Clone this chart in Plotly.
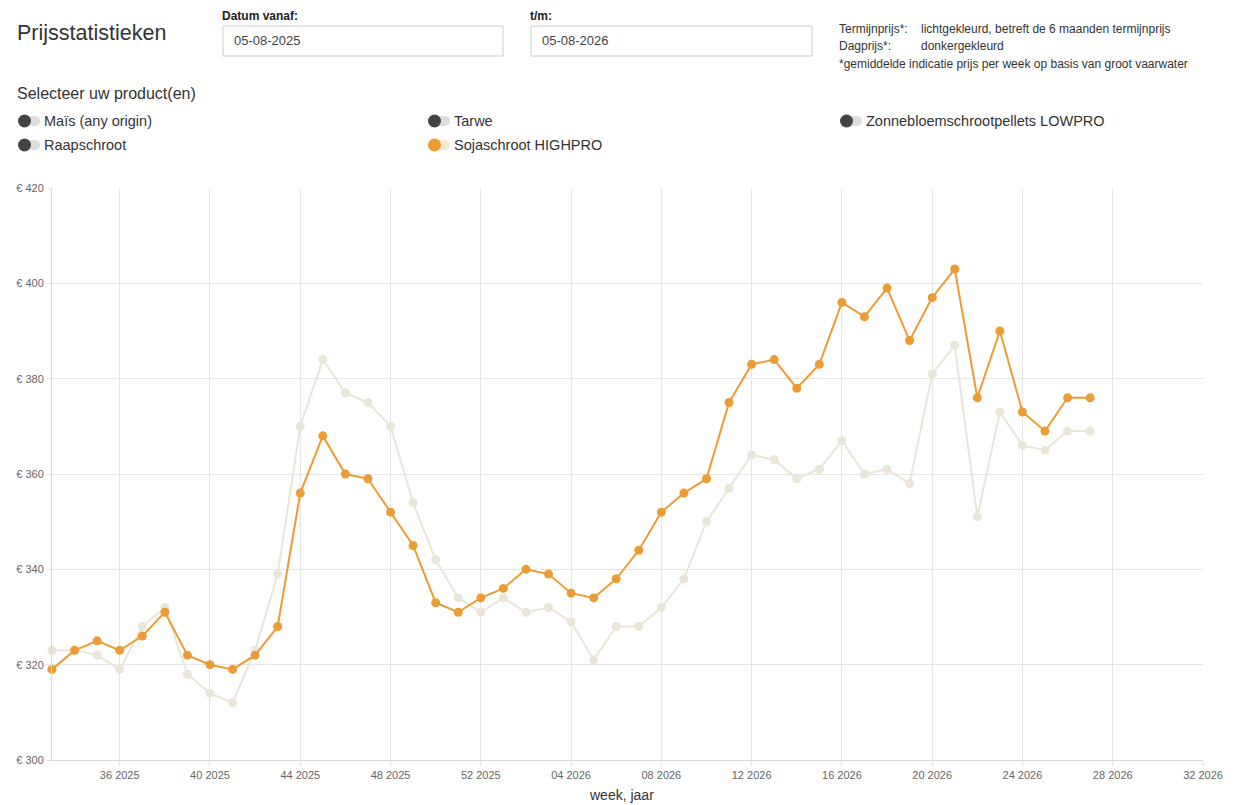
import plotly.graph_objects as go

# week index 0 = week 33 2025, last point = week 27 2026
weeks = list(range(47))
dagprijs = [319, 323, 325, 323, 326, 331, 322, 320, 319, 322, 328, 356, 368, 360, 359,
            352, 345, 333, 331, 334, 336, 340, 339, 335, 334, 338, 344, 352, 356, 359,
            375, 383, 384, 378, 383, 396, 393, 399, 388, 397, 403, 376, 390, 373, 369,
            376, 376]
termijnprijs = [323, 323, 322, 319, 328, 332, 318, 314, 312, 323, 339, 370, 384, 377, 375,
                370, 354, 342, 334, 331, 334, 331, 332, 329, 321, 328, 328, 332, 338, 350,
                357, 364, 363, 359, 361, 367, 360, 361, 358, 381, 387, 351, 373, 366, 365,
                369, 369]
tick_pos = [3, 7, 11, 15, 19, 23, 27, 31, 35, 39, 43, 47, 51]
tick_labels = ["36 2025", "40 2025", "44 2025", "48 2025", "52 2025", "04 2026",
               "08 2026", "12 2026", "16 2026", "20 2026", "24 2026", "28 2026", "32 2026"]

ORANGE = "#ec9c35"
LIGHT = "#e9e6d9"
FONT = "Liberation Sans, Arial, sans-serif"

# page body has an 8px margin, so the figure sits at (8, 8); let it run to the window edge
OFF = 8
W, H = 1239 - OFF, 805 - OFF
ML, MT = 52 - OFF, 188 - OFF
MR = (W + OFF) - 1203
MB = (H + OFF) - 760
PW = W - ML - MR
PH = H - MT - MB


def px(x):
    return (x - OFF - ML) / PW


def py(y):
    return (H + OFF - MB - y) / PH


fig = go.Figure()
fig.add_trace(go.Scatter(x=weeks, y=termijnprijs, mode="lines+markers", name="Termijnprijs",
                         line=dict(color=LIGHT, width=2), marker=dict(color=LIGHT, size=9),
                         cliponaxis=False, hoverinfo="y"))
fig.add_trace(go.Scatter(x=weeks, y=dagprijs, mode="lines+markers", name="Dagprijs",
                         line=dict(color=ORANGE, width=2), marker=dict(color=ORANGE, size=9),
                         cliponaxis=False, hoverinfo="y"))

annotations = []
shapes = []


def text(x, y, s, size=13, color="#333", bold=False, anchor="left", vanchor="middle"):
    annotations.append(dict(x=px(x), y=py(y), xref="paper", yref="paper", text=f"<b>{s}</b>" if bold else s,
                            showarrow=False, xanchor=anchor, yanchor=vanchor, borderpad=0,
                            font=dict(family=FONT, size=size, color=color)))


# header
text(16, 33, "Prijsstatistieken", size=21.5, color="#333")
text(221, OFF, "Datum vanaf:", size=12, color="#222", bold=True, vanchor="top")
text(529, OFF, "t/m:", size=12, color="#222", bold=True, vanchor="top")
for x0, x1, val in [(223, 503, "05-08-2025"), (531, 812, "05-08-2026")]:
    shapes.append(dict(type="rect", xref="paper", yref="paper", x0=px(x0), x1=px(x1), y0=py(56), y1=py(26),
                       line=dict(color="#cccccc", width=1), fillcolor="white", layer="below"))
    text(x0 + 10, 41, val, size=13, color="#444")

text(838, 29, "Termijnprijs*:", size=12)
text(920, 29, "lichtgekleurd, betreft de 6 maanden termijnprijs", size=12)
text(838, 46, "Dagprijs*:", size=12)
text(920, 46, "donkergekleurd", size=12)
text(838, 64, "*gemiddelde indicatie prijs per week op basis van groot vaarwater", size=12)

text(16, 93, "Selecteer uw product(en)", size=16, color="#333")

products = [(18, 121, "Maïs (any origin)", False), (428, 121, "Tarwe", False),
            (840, 121, "Zonnebloemschrootpellets LOWPRO", False),
            (18, 145, "Raapschroot", False), (428, 145, "Sojaschroot HIGHPRO", True)]
for x, y, label, on in products:
    knob = ORANGE if on else "#444444"
    track = "#f3ead6" if on else "#dddddd"
    shapes.append(dict(type="circle", xref="paper", yref="paper", x0=px(x + 12), x1=px(x + 22),
                       y0=py(y + 5), y1=py(y - 5), line=dict(width=0), fillcolor=track))
    shapes.append(dict(type="rect", xref="paper", yref="paper", x0=px(x + 6), x1=px(x + 17),
                       y0=py(y + 5), y1=py(y - 5), line=dict(width=0), fillcolor=track))
    shapes.append(dict(type="circle", xref="paper", yref="paper", x0=px(x), x1=px(x + 13),
                       y0=py(y + 6.5), y1=py(y - 6.5), line=dict(width=0), fillcolor=knob))
    text(x + 25, y, label, size=14.5, color="#333")

# x axis title
text(621, 795, "week, jaar", size=14, color="#333", anchor="center")

fig.update_layout(
    width=W, height=H,
    margin=dict(l=ML, r=MR, t=MT, b=MB, pad=0, autoexpand=False),
    paper_bgcolor="white", plot_bgcolor="white",
    showlegend=False,
    annotations=annotations, shapes=shapes,
    font=dict(family=FONT, color="#666"),
    xaxis=dict(range=[0, 51], tickmode="array", tickvals=tick_pos, ticktext=tick_labels,
               showgrid=True, gridcolor="#e6e6e6", gridwidth=1, zeroline=False, automargin=False,
               showline=True, linecolor="#d9d9d9", ticks="outside", ticklen=5, tickcolor="#e6e6e6",
               tickfont=dict(size=11, color="#666")),
    yaxis=dict(range=[300, 420], dtick=20, tickprefix="€ ", showgrid=True, gridcolor="#e6e6e6",
               zeroline=False, showline=True, linecolor="#d9d9d9", ticks="outside", ticklen=5,
               automargin=False, tickcolor="#e6e6e6", tickfont=dict(size=11, color="#666")),
)

fig.write_html("out.html")
